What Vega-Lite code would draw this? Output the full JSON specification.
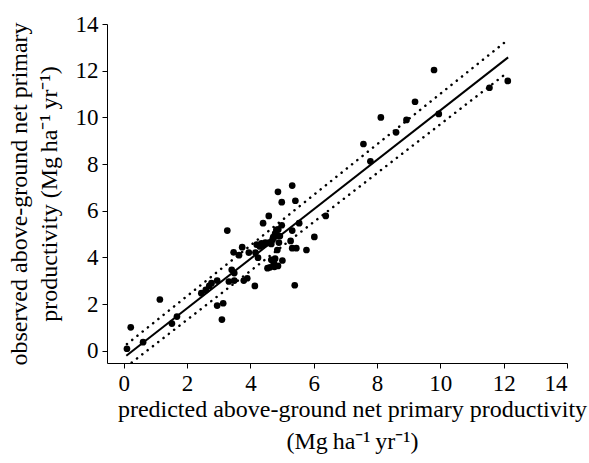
{
  "$schema": "https://vega.github.io/schema/vega-lite/v6.json",
  "width": 460,
  "height": 339,
  "autosize": "none",
  "padding": {"left": 107, "top": 24, "right": 22, "bottom": 100},
  "background": "white",
  "config": {
    "view": {"stroke": null},
    "font": "Liberation Serif",
    "axis": {
      "domainColor": "black",
      "domainWidth": 1,
      "tickColor": "black",
      "tickWidth": 1,
      "tickSize": 5,
      "grid": false,
      "labelFont": "Liberation Serif",
      "labelFontSize": 23,
      "labelColor": "black",
      "labelPadding": 4,
      "titleFont": "Liberation Serif",
      "titleFontSize": 24,
      "titleFontWeight": "normal",
      "titleColor": "black"
    }
  },
  "datasets": {
    "points": [
      {"pred": 0.10, "obs": 0.09}, {"pred": 0.22, "obs": 1.01}, {"pred": 0.61, "obs": 0.37},
      {"pred": 1.14, "obs": 2.20}, {"pred": 1.52, "obs": 1.17}, {"pred": 1.68, "obs": 1.47},
      {"pred": 2.45, "obs": 2.47}, {"pred": 2.59, "obs": 2.61}, {"pred": 2.70, "obs": 2.78},
      {"pred": 2.77, "obs": 2.90}, {"pred": 2.95, "obs": 3.01}, {"pred": 2.95, "obs": 1.94},
      {"pred": 3.14, "obs": 2.04}, {"pred": 3.10, "obs": 1.34}, {"pred": 3.27, "obs": 5.15},
      {"pred": 3.32, "obs": 2.97}, {"pred": 3.41, "obs": 3.47}, {"pred": 3.49, "obs": 3.33},
      {"pred": 3.49, "obs": 3.01}, {"pred": 3.47, "obs": 4.22}, {"pred": 3.64, "obs": 4.10},
      {"pred": 3.74, "obs": 4.44}, {"pred": 3.79, "obs": 3.01}, {"pred": 3.90, "obs": 3.11},
      {"pred": 3.95, "obs": 4.21}, {"pred": 4.14, "obs": 2.78}, {"pred": 4.16, "obs": 4.21},
      {"pred": 4.24, "obs": 3.99}, {"pred": 4.30, "obs": 4.47}, {"pred": 4.40, "obs": 5.47},
      {"pred": 4.42, "obs": 4.54}, {"pred": 4.47, "obs": 4.64}, {"pred": 4.54, "obs": 3.54},
      {"pred": 4.58, "obs": 5.78}, {"pred": 4.66, "obs": 4.58}, {"pred": 4.72, "obs": 4.87},
      {"pred": 4.66, "obs": 3.90}, {"pred": 4.74, "obs": 3.75}, {"pred": 4.82, "obs": 5.18},
      {"pred": 4.87, "obs": 6.81}, {"pred": 4.85, "obs": 4.32}, {"pred": 4.87, "obs": 3.64},
      {"pred": 4.90, "obs": 4.64}, {"pred": 4.93, "obs": 4.92}, {"pred": 4.99, "obs": 6.37},
      {"pred": 4.99, "obs": 5.38}, {"pred": 5.01, "obs": 3.87}, {"pred": 5.27, "obs": 4.71},
      {"pred": 5.32, "obs": 7.08}, {"pred": 5.32, "obs": 5.15}, {"pred": 5.32, "obs": 4.40},
      {"pred": 5.40, "obs": 2.81}, {"pred": 5.42, "obs": 6.43}, {"pred": 5.45, "obs": 4.40},
      {"pred": 5.54, "obs": 5.47}, {"pred": 5.77, "obs": 4.32}, {"pred": 6.02, "obs": 4.88},
      {"pred": 6.38, "obs": 5.78},
      {"pred": 4.78, "obs": 5.02}, {"pred": 4.85, "obs": 4.95}, {"pred": 4.70, "obs": 4.76},
      {"pred": 4.62, "obs": 4.65}, {"pred": 4.20, "obs": 4.55}, {"pred": 4.35, "obs": 4.60},
      {"pred": 4.78, "obs": 3.95}, {"pred": 4.62, "obs": 3.58}, {"pred": 4.76, "obs": 3.60},
      {"pred": 4.88, "obs": 5.20}, {"pred": 4.55, "obs": 4.62},
      {"pred": 7.57, "obs": 8.86}, {"pred": 7.79, "obs": 8.12}, {"pred": 8.12, "obs": 10.00},
      {"pred": 8.60, "obs": 9.36}, {"pred": 8.93, "obs": 9.89}, {"pred": 9.20, "obs": 10.67},
      {"pred": 9.80, "obs": 12.03}, {"pred": 9.95, "obs": 10.15}, {"pred": 11.55, "obs": 11.27},
      {"pred": 12.13, "obs": 11.56}
    ],
    "fit": [
      {"pred": 0.08, "obs": -0.21},
      {"pred": 12.14, "obs": 12.57}
    ],
    "bands": [
      {"band": "upper", "pred": 0.10, "obs": 0.29},
      {"band": "upper", "pred": 12.02, "obs": 13.20},
      {"band": "lower", "pred": 0.25, "obs": -0.50},
      {"band": "lower", "pred": 12.00, "obs": 11.80}
    ]
  },
  "encoding": {
    "x": {
      "field": "pred", "type": "quantitative",
      "scale": {"domain": [-0.53, 14], "nice": false, "zero": false},
      "axis": {
        "values": [0, 2, 4, 6, 8, 10, 12, 14],
        "title": ["predicted above-ground net primary productivity", "(Mg\u2009ha\u207b\u00b9\u2009yr\u207b\u00b9)"],
        "titleLineHeight": 32,
        "titleX": 245,
        "titleAlign": "center",
        "titlePadding": 2
      }
    },
    "y": {
      "field": "obs", "type": "quantitative",
      "scale": {"domain": [-0.52, 14], "nice": false, "zero": false},
      "axis": {
        "values": [0, 2, 4, 6, 8, 10, 12, 14],
        "title": ["observed above-ground net primary", "productivity (Mg\u2009ha\u207b\u00b9\u2009yr\u207b\u00b9)"],
        "titleLineHeight": 30,
        "titlePadding": 14
      }
    }
  },
  "layer": [
    {
      "data": {"name": "bands"},
      "mark": {"type": "line", "color": "black", "strokeWidth": 2.5, "strokeDash": [0.1, 6.6], "strokeCap": "round"},
      "encoding": {"detail": {"field": "band"}}
    },
    {
      "data": {"name": "fit"},
      "mark": {"type": "line", "color": "black", "strokeWidth": 2},
      "encoding": {}
    },
    {
      "data": {"name": "points"},
      "mark": {"type": "circle", "size": 45, "color": "black", "opacity": 1},
      "encoding": {}
    }
  ]
}
